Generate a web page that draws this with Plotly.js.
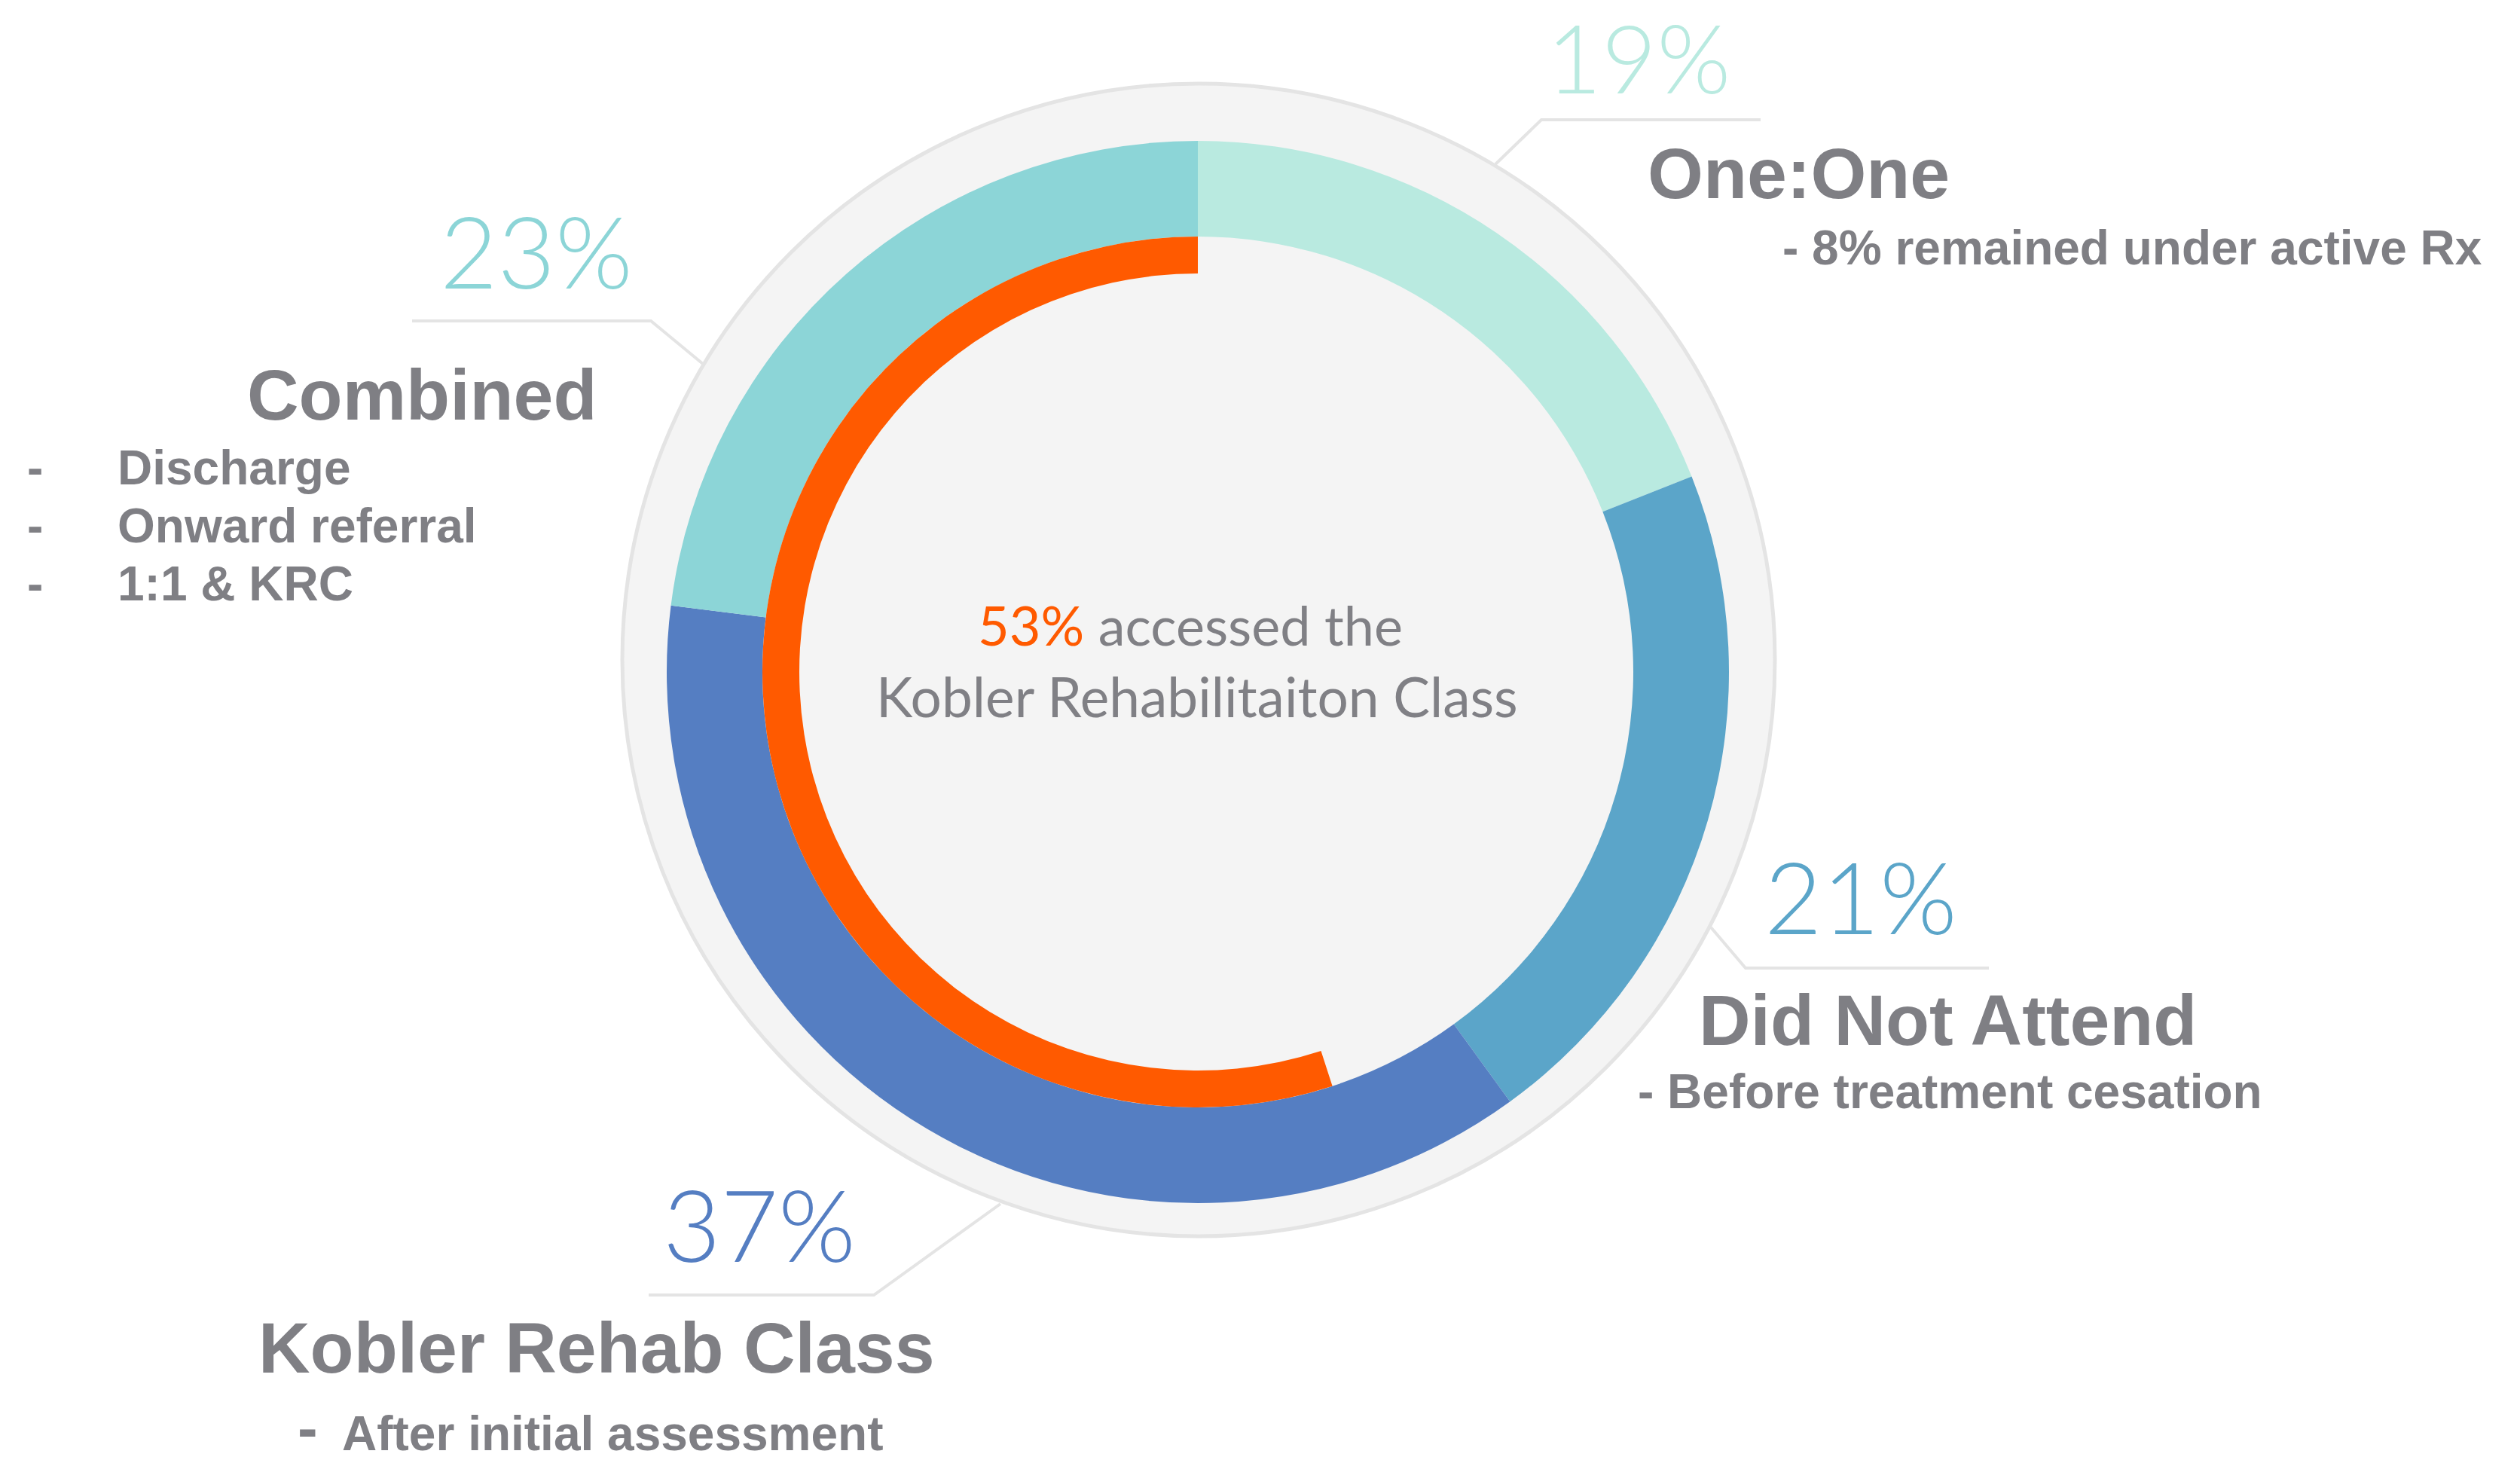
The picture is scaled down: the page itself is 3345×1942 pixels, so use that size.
<!DOCTYPE html>
<html>
<head>
<meta charset="utf-8">
<script src="https://cdn.plot.ly/plotly-3.0.1.min.js"></script>
<style>html,body{margin:0;padding:0;background:#fff;}#chart{width:3345px;height:1942px;}</style>
</head>
<body>
<div id="chart"></div>
<script>
// ---- data ----
const categories = ['One:One', 'Did Not Attend', 'Kobler Rehab Class', 'Combined'];
const shares = [19, 21, 37, 23];
const segmentColors = ['#B9EAE0', '#5BA5C9', '#557EC2', '#8CD5D7'];
const accessedText = 53;                 // value printed in the centre
const arcLabels = ['Accessed KRC', 'Other'];
const arcShares = [55, 45];              // orange arc as drawn in the picture
const notes = {
  'One:One': ['- 8% remained under active Rx'],
  'Did Not Attend': ['- Before treatment cesation'],
  'Kobler Rehab Class': ['After initial assessment'],
  'Combined': ['Discharge', 'Onward referral', '1:1 & KRC']
};
const centerLine2 = 'Kobler Rehabilitaiton Class';

// ---- layout helpers ----
const W = 3345, H = 1942;
const px = x => x / W;
const py = y => 1 - y / H;
const GREY = '#7F7F84';
const BOLD = 'Liberation Sans, Arial, sans-serif';
const LIGHT = 'Lato, Open Sans, sans-serif';

function box(cx, cy, r) {
  return {x: [px(cx - r), px(cx + r)], y: [py(cy + r), py(cy - r)]};
}

const donut = {
  type: 'pie', labels: categories, values: shares, sort: false, direction: 'clockwise', rotation: 0,
  hole: 578 / 705, marker: {colors: segmentColors, line: {width: 0}},
  textinfo: 'none', hoverinfo: 'none', showlegend: false,
  domain: box(1590, 892, 705)
};
// orange arc runs anticlockwise from 12 o'clock: draw the transparent remainder first, clockwise
const ring = {
  type: 'pie', labels: arcLabels.slice().reverse(), values: arcShares.slice().reverse(),
  sort: false, direction: 'clockwise', rotation: 0,
  hole: 529 / 578, marker: {colors: ['rgba(0,0,0,0)', '#FF5A00'], line: {width: 0}},
  textinfo: 'none', hoverinfo: 'none', showlegend: false,
  domain: box(1590, 892, 578)
};

function ann(text, x, y, size, color, family, xanchor, weight) {
  return {text: text, x: px(x), y: py(y), xref: 'paper', yref: 'paper', showarrow: false,
    xanchor: xanchor || 'center', yanchor: 'middle',
    font: {size: size, color: color, family: family, weight: weight || 'normal'}};
}

const pctPos = {
  'One:One': [2175, 76, 126],
  'Did Not Attend': [2470, 1189, 132],
  'Kobler Rehab Class': [1008, 1624, 132],
  'Combined': [712, 332, 132]
};
const annotations = [];
categories.forEach((c, i) => {
  annotations.push(ann(shares[i] + '%', pctPos[c][0], pctPos[c][1], pctPos[c][2], segmentColors[i], LIGHT, 'center', 300));
});
// category titles
annotations.push(ann('<b>' + categories[0] + '</b>', 2387, 230, 95, GREY, BOLD));
annotations.push(ann('<b>' + categories[1] + '</b>', 2585, 1354, 95, GREY, BOLD));
annotations.push(ann('<b>' + categories[2] + '</b>', 792, 1789, 95, GREY, BOLD));
annotations.push(ann('<b>' + categories[3] + '</b>', 560, 524, 95, GREY, BOLD));
// notes
annotations.push(ann('<b>' + notes['One:One'][0] + '</b>', 2364, 329, 64, GREY, BOLD, 'left'));
annotations.push(ann('<b>' + notes['Did Not Attend'][0] + '</b>', 2172, 1449, 64, GREY, BOLD, 'left'));
annotations.push(ann('<b>-</b>', 393, 1895, 80, GREY, BOLD, 'left'));
annotations.push(ann('<b>' + notes['Kobler Rehab Class'][0] + '</b>', 452, 1903, 64, GREY, BOLD, 'left'));
notes['Combined'].forEach((t, k) => {
  const y = 621 + k * 77;
  annotations.push(ann('<b>-</b>', 34, y, 64, GREY, BOLD, 'left'));
  annotations.push(ann('<b>' + t + '</b>', 154, y, 64, GREY, BOLD, 'left'));
});
// centre text
annotations.push(ann('<span style="color:#FF5A00">' + accessedText + '%</span> accessed the', 1580, 829, 72, '#808085', LIGHT));
annotations.push(ann(centerLine2, 1589, 924, 73, '#808085', LIGHT));

function path(pts) {
  return 'M ' + pts.map(p => px(p[0]) + ',' + py(p[1])).join(' L ');
}
const LEAD = {color: '#E4E4E4', width: 4};
const shapes = [
  {type: 'circle', xref: 'paper', yref: 'paper', layer: 'below',
   x0: px(826), x1: px(2356), y0: py(1641), y1: py(111),
   fillcolor: '#F4F4F4', line: {color: '#E4E4E4', width: 5}},
  {type: 'path', xref: 'paper', yref: 'paper', layer: 'below', path: path([[1985, 218], [2046, 159], [2337, 159]]), line: LEAD},
  {type: 'path', xref: 'paper', yref: 'paper', layer: 'below', path: path([[547, 426], [864, 426], [933, 483]]), line: LEAD},
  {type: 'path', xref: 'paper', yref: 'paper', layer: 'below', path: path([[2271, 1231], [2317, 1285], [2640, 1285]]), line: LEAD},
  {type: 'path', xref: 'paper', yref: 'paper', layer: 'below', path: path([[1328, 1598], [1160, 1719], [861, 1719]]), line: LEAD}
];

const layout = {
  width: W, height: H, margin: {l: 0, r: 0, t: 0, b: 0},
  paper_bgcolor: '#FFFFFF', plot_bgcolor: '#FFFFFF',
  showlegend: false, annotations: annotations, shapes: shapes
};
Plotly.newPlot('chart', [donut, ring], layout, {displayModeBar: false, staticPlot: true});
</script>
</body>
</html>
